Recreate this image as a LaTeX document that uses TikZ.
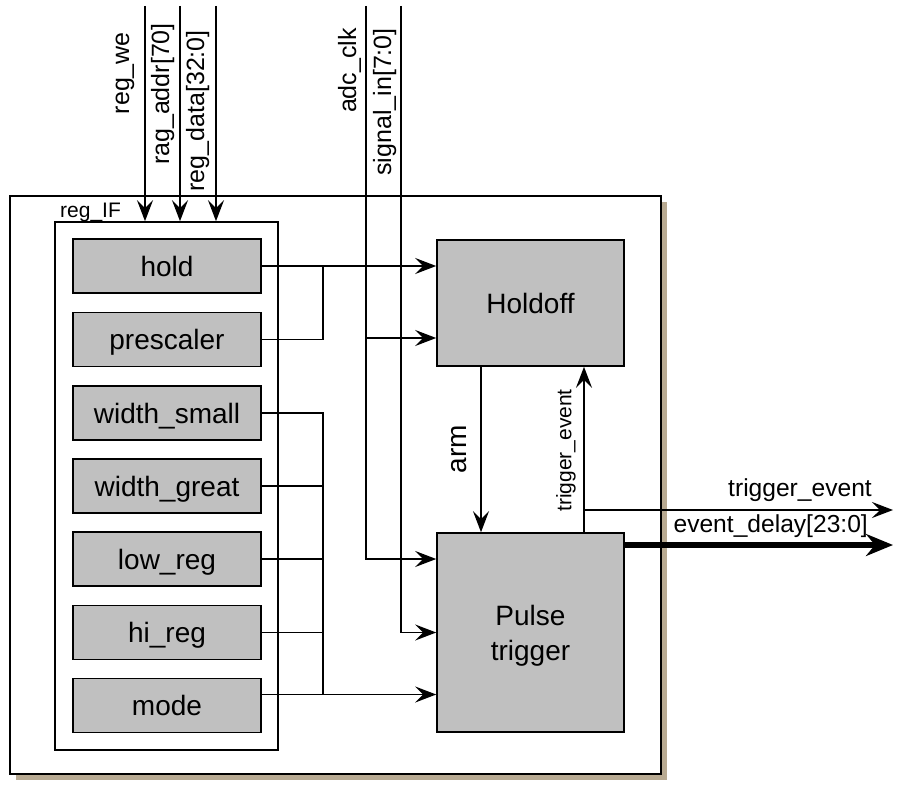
\documentclass[tikz,border=0pt]{standalone}
\usepackage{fontspec}
\setmainfont{Liberation Sans}
\usetikzlibrary{arrows.meta}
\definecolor{boxfill}{RGB}{192,192,192}
\definecolor{shadowc}{RGB}{184,170,146}
\begin{document}
\begin{tikzpicture}[x=1pt,y=-1pt,
  ln/.style={line width=1.6pt},
  arr/.style={ln,-{Stealth[length=21pt,width=16pt,inset=8pt]}},
  bigarr/.style={line width=6pt,-{Stealth[length=27pt,width=22pt,inset=9pt]}},
  regbox/.style={draw,line width=1.6pt,fill=boxfill,minimum width=188pt,minimum height=54pt,
    inner sep=0pt,font=\fontsize{28}{32}\selectfont,text height=20pt,text depth=0pt},
  blockbox/.style={draw,line width=1.6pt,fill=boxfill,inner sep=0pt,
    font=\fontsize{28}{34}\selectfont,align=center},
  toplbl/.style={rotate=90,anchor=base east,inner sep=0pt,font=\fontsize{25}{29}\selectfont},
  outlbl/.style={anchor=base east,inner sep=0pt,font=\fontsize{24.6}{28}\selectfont}
]
\useasboundingbox (0,0) rectangle (899,792);
% outer box with shadow
\fill[shadowc] (16,202) rectangle (667,780);
\node[draw,line width=1.6pt,fill=white,minimum width=651pt,minimum height=578pt,inner sep=0pt] (outer) at (335.5,485) {};
% reg_IF container
\node[draw,line width=1.6pt,fill=white,minimum width=223pt,minimum height=528pt,inner sep=0pt] (regif) at (166.5,486) {};
\node[anchor=base west,inner sep=0pt,font=\fontsize{21}{24}\selectfont] (regiflbl) at (60,217) {reg\_IF};
% registers
\node[regbox] (hold) at (167,266) {hold};
\node[regbox] (prescaler) at (167,339.5) {prescaler};
\node[regbox] (wsmall) at (167,413) {width\_small};
\node[regbox] (wgreat) at (167,486) {width\_great};
\node[regbox] (lowreg) at (167,559) {low\_reg};
\node[regbox] (hireg) at (167,632.5) {hi\_reg};
\node[regbox] (mode) at (167,705.5) {mode};
% blocks
\node[blockbox,minimum width=187pt,minimum height=126pt,text height=20pt,text depth=0pt] (holdoff) at (530.5,303) {Holdoff};
\node[blockbox,minimum width=187pt,minimum height=199pt] (pulse) at (530.5,632.5) {};
\node[align=center,inner sep=0pt,font=\fontsize{28}{35}\selectfont] (pulselbl) at (530.5,636) {Pulse\\trigger};
% top input coordinates
\coordinate (we) at (145,6);
\coordinate (addr) at (180,6);
\coordinate (data) at (216,6);
\coordinate (clk) at (366,6);
\coordinate (sig) at (401,6);
\draw[arr] (we) -- (we |- regif.north);
\draw[arr] (addr) -- (addr |- regif.north);
\draw[arr] (data) -- (data |- regif.north);
\node[toplbl] (welbl) at (129,32) {reg\_we};
\node[toplbl] (addrlbl) at (169,23) {rag\_addr[70]};
\node[toplbl] (datalbl) at (204,30) {reg\_data[32:0]};
\node[toplbl] (clklbl) at (356,28) {adc\_clk};
\node[toplbl] (siglbl) at (391,28) {signal\_in[7:0]};
% hold / prescaler to Holdoff
\coordinate (jA) at (323,266);
\draw[arr] (hold.east) -- (hold.east -| holdoff.west);
\draw[ln] (prescaler.east) -| (jA);
% register group to Pulse trigger
\coordinate (jB) at (323,413);
\coordinate (modeout) at ([yshift=11pt]mode.east);
\draw[ln] (wsmall.east) -- (jB) -- (jB |- modeout);
\draw[ln] (wgreat.east) -- (wgreat.east -| jB);
\draw[ln] (lowreg.east) -- (lowreg.east -| jB);
\draw[ln] (hireg.east) -- (hireg.east -| jB);
\draw[arr] (modeout) -- (modeout -| pulse.west);
% clock and signal
\draw[arr] (clk) |- (lowreg.east -| pulse.west);
\draw[arr] (sig) |- (hireg.east -| pulse.west);
\coordinate (clkh) at (366,338);
\draw[arr] (clkh) -- (clkh -| holdoff.west);
% arm and trigger_event
\coordinate (armx) at (481,0);
\coordinate (trx) at (584,0);
\draw[arr] (armx |- holdoff.south) -- (armx |- pulse.north);
\draw[arr] (trx |- pulse.north) -- (trx |- holdoff.south);
\node[rotate=90,inner sep=0pt,font=\fontsize{28}{32}\selectfont] (armlbl) at (459.5,449) {arm};
\node[rotate=90,inner sep=0pt,font=\fontsize{21}{25}\selectfont] (trlbl) at (566,450.5) {trigger\_event};
% outputs
\coordinate (teout) at (893,510);
\coordinate (edout) at (893,545);
\draw[arr] (trx |- teout) -- (teout);
\draw[bigarr] (pulse.east |- edout) -- (edout);
\node[outlbl] (telbl) at (872,496) {trigger\_event};
\node[outlbl] (edlbl) at (868,532) {event\_delay[23:0]};
\end{tikzpicture}
\end{document}
